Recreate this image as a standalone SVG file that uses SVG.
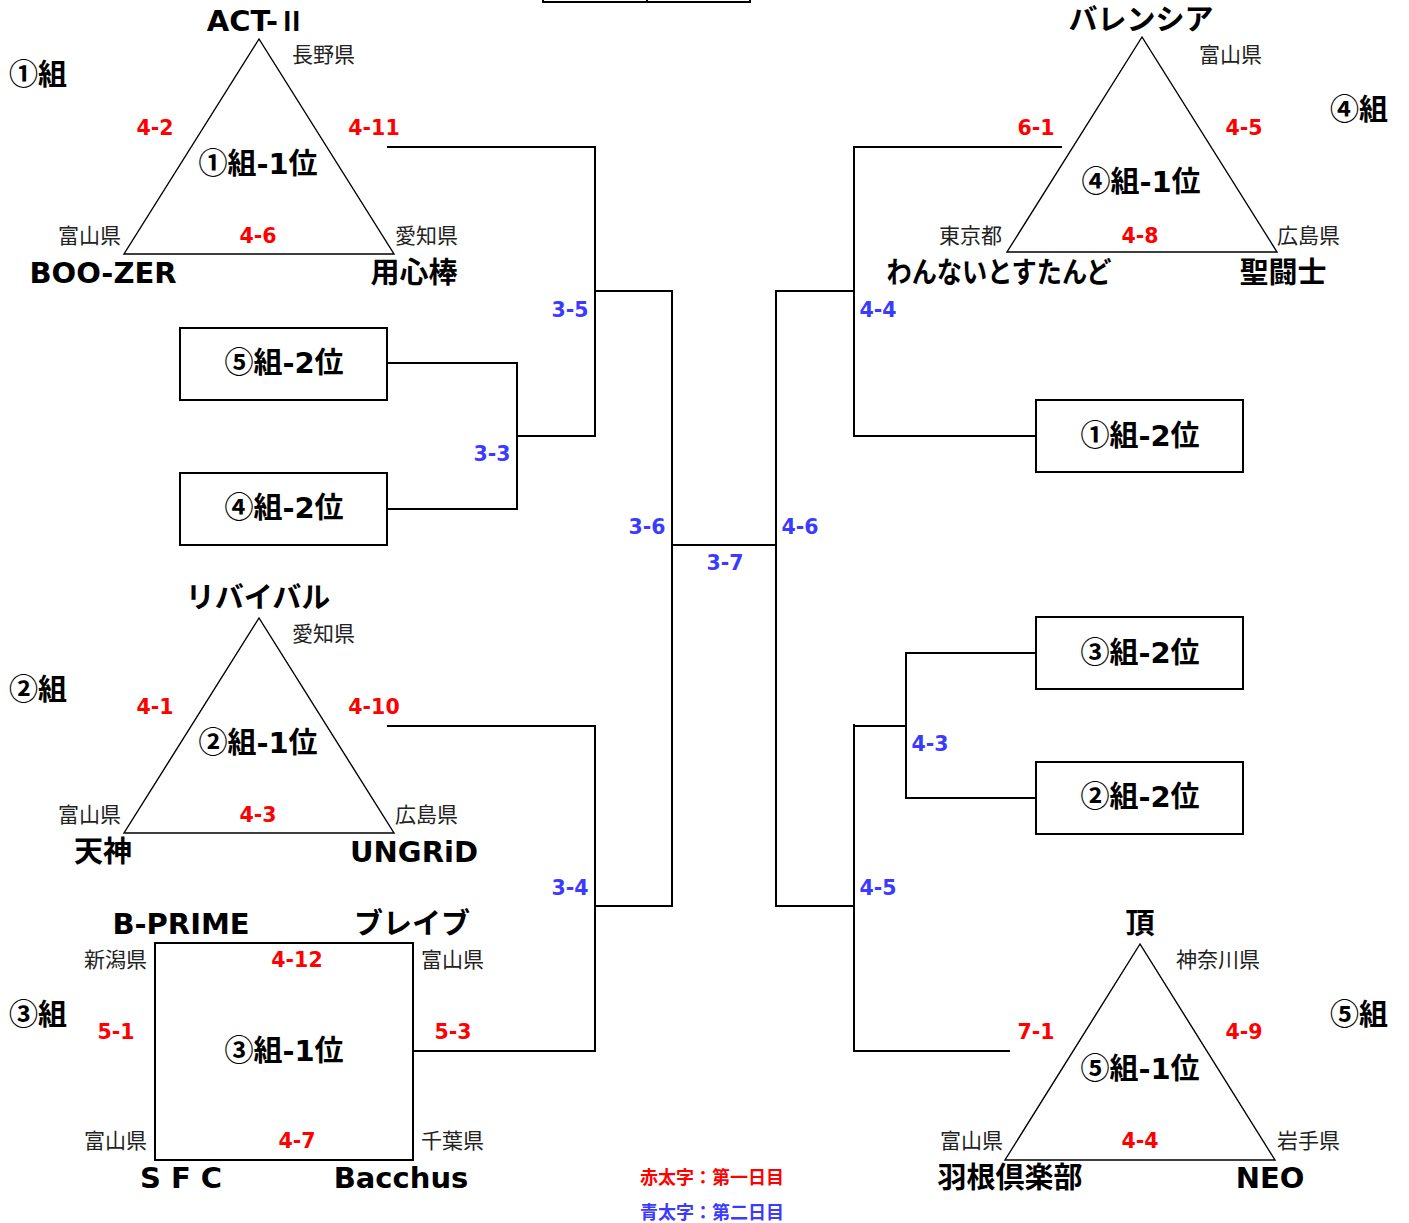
<svg xmlns="http://www.w3.org/2000/svg" width="1409" height="1223" viewBox="0 0 1409 1223">
<style>
.bg{fill:#fff}
.tri{fill:none;stroke:#000;stroke-width:1.4}
.box{fill:#fff;stroke:#000;stroke-width:2}
.ln{fill:none;stroke:#000;stroke-width:2}
.big{font-family:"DejaVu Sans","Noto Sans CJK JP",sans-serif;font-weight:bold;font-size:29px;fill:#000}
.grp{font-family:"DejaVu Sans","Noto Sans CJK JP",sans-serif;font-weight:bold;font-size:29px;fill:#000}
.c{font-family:"Noto Sans CJK JP",sans-serif}
.pref{font-family:"Noto Sans CJK JP",sans-serif;font-size:21px;fill:#222}
.red{font-family:"DejaVu Sans","Noto Sans CJK JP",sans-serif;font-weight:bold;font-size:20.5px;fill:#ff0000}
.blue{font-family:"DejaVu Sans","Noto Sans CJK JP",sans-serif;font-weight:bold;font-size:20.5px;fill:#3b3bff}
.lg{font-family:"Noto Sans CJK JP",sans-serif;font-weight:bold;font-size:18px}
.m{text-anchor:middle}
</style>
<rect class="bg" x="0" y="0" width="1409" height="1223"/>

<g id="header">
<rect x="543" y="-10" width="207" height="12" class="box"/>
<line x1="647" y1="-10" x2="647" y2="2" class="ln"/>
</g>

<g id="connectors">
<polyline class="ln" points="387,147 595,147 595,436 517,436"/>
<polyline class="ln" points="387,363 517,363 517,509 387,509"/>
<polyline class="ln" points="595,291 672,291 672,906 595,906"/>
<polyline class="ln" points="387,726 595,726 595,1051 413,1051"/>
<line class="ln" x1="672" y1="545" x2="776" y2="545"/>
<polyline class="ln" points="1062,147 854,147 854,436 1036,436"/>
<polyline class="ln" points="854,291 776,291 776,906 854,906"/>
<polyline class="ln" points="1036,653 906,653 906,798 1036,798"/>
<polyline class="ln" points="906,726 854,726"/>
<polyline class="ln" points="854,724 854,1051 1010,1051"/>
</g>

<g id="labels-round">
<text class="blue m" x="570" y="317">3-5</text>
<text class="blue m" x="492" y="461">3-3</text>
<text class="blue m" x="647" y="534">3-6</text>
<text class="blue m" x="725" y="570">3-7</text>
<text class="blue m" x="800" y="534">4-6</text>
<text class="blue m" x="570" y="895">3-4</text>
<text class="blue m" x="878" y="317">4-4</text>
<text class="blue m" x="930" y="751">4-3</text>
<text class="blue m" x="878" y="895">4-5</text>
</g>

<g id="group1">
<polygon class="tri" points="259,39 124,254 394,254"/>
<text class="big m" x="256" y="31">ACT-<tspan class="c" font-size="27">Ⅱ</tspan></text>
<text class="pref" x="292" y="62">長野県</text>
<text class="grp" x="9" y="85"><tspan class="c">①</tspan>組</text>
<text class="red m" x="155" y="135">4-2</text>
<text class="red m" x="374" y="135">4-11</text>
<text class="big m" x="258" y="174"><tspan class="c">①</tspan>組-1位</text>
<text class="pref" x="58" y="243">富山県</text>
<text class="red m" x="258" y="243">4-6</text>
<text class="pref" x="395" y="243">愛知県</text>
<text class="big m" x="103" y="283">BOO-ZER</text>
<text class="big m" x="414" y="283">用心棒</text>
</g>

<g id="box-g5-2"><rect class="box" x="180" y="328" width="207" height="72"/><text class="big m" x="284" y="373"><tspan class="c">⑤</tspan>組-2位</text></g>
<g id="box-g4-2"><rect class="box" x="180" y="473" width="207" height="72"/><text class="big m" x="284" y="518"><tspan class="c">④</tspan>組-2位</text></g>

<g id="group2">
<polygon class="tri" points="259,618 124,833 394,833"/>
<text class="big m" x="258" y="608">リバイバル</text>
<text class="pref" x="292" y="641">愛知県</text>
<text class="grp" x="9" y="700"><tspan class="c">②</tspan>組</text>
<text class="red m" x="155" y="714">4-1</text>
<text class="red m" x="374" y="714">4-10</text>
<text class="big m" x="258" y="753"><tspan class="c">②</tspan>組-1位</text>
<text class="pref" x="58" y="822">富山県</text>
<text class="red m" x="258" y="822">4-3</text>
<text class="pref" x="395" y="822">広島県</text>
<text class="big m" x="103" y="862">天神</text>
<text class="big m" x="414" y="862">UNGRiD</text>
</g>

<g id="group3">
<rect class="box" x="155" y="943" width="258" height="217"/>
<text class="big m" x="181" y="934">B-PRIME</text>
<text class="big m" x="412" y="934">ブレイブ</text>
<text class="pref" x="84" y="967">新潟県</text>
<text class="red m" x="297" y="967">4-12</text>
<text class="pref" x="421" y="967">富山県</text>
<text class="grp" x="9" y="1025"><tspan class="c">③</tspan>組</text>
<text class="red m" x="116" y="1039">5-1</text>
<text class="red m" x="453" y="1039">5-3</text>
<text class="big m" x="284" y="1061"><tspan class="c">③</tspan>組-1位</text>
<text class="pref" x="84" y="1148">富山県</text>
<text class="red m" x="297" y="1148">4-7</text>
<text class="pref" x="421" y="1148">千葉県</text>
<text class="big m" x="181" y="1188">S F C</text>
<text class="big m" x="401" y="1188">Bacchus</text>
</g>

<g id="group4">
<polygon class="tri" points="1142,37 1007,252 1277,252"/>
<text class="big m" x="1141" y="30">バレンシア</text>
<text class="pref" x="1199" y="62">富山県</text>
<text class="grp" x="1330" y="120"><tspan class="c">④</tspan>組</text>
<text class="red m" x="1036" y="135">6-1</text>
<text class="red m" x="1244" y="135">4-5</text>
<text class="big m" x="1141" y="192"><tspan class="c">④</tspan>組-1位</text>
<text class="pref" x="939" y="243">東京都</text>
<text class="red m" x="1140" y="243">4-8</text>
<text class="pref" x="1277" y="243">広島県</text>
<text class="big m" x="999" y="283" textLength="225" lengthAdjust="spacingAndGlyphs">わんないとすたんど</text>
<text class="big m" x="1283" y="283">聖闘士</text>
</g>

<g id="box-g1-2"><rect class="box" x="1036" y="400" width="207" height="72"/><text class="big m" x="1140" y="446"><tspan class="c">①</tspan>組-2位</text></g>
<g id="box-g3-2"><rect class="box" x="1036" y="617" width="207" height="72"/><text class="big m" x="1140" y="663"><tspan class="c">③</tspan>組-2位</text></g>
<g id="box-g2-2"><rect class="box" x="1036" y="762" width="207" height="72"/><text class="big m" x="1140" y="807"><tspan class="c">②</tspan>組-2位</text></g>

<g id="group5">
<polygon class="tri" points="1140,944 1005,1160 1275,1160"/>
<text class="big m" x="1140" y="934">頂</text>
<text class="pref" x="1176" y="967">神奈川県</text>
<text class="grp" x="1330" y="1025"><tspan class="c">⑤</tspan>組</text>
<text class="red m" x="1036" y="1039">7-1</text>
<text class="red m" x="1244" y="1039">4-9</text>
<text class="big m" x="1140" y="1079"><tspan class="c">⑤</tspan>組-1位</text>
<text class="pref" x="940" y="1148">富山県</text>
<text class="red m" x="1140" y="1148">4-4</text>
<text class="pref" x="1277" y="1148">岩手県</text>
<text class="big m" x="1010" y="1188">羽根倶楽部</text>
<text class="big m" x="1270" y="1188">NEO</text>
</g>

<g id="legend">
<text class="lg" x="640" y="1184" fill="#ff0000">赤太字：第一日目</text>
<text class="lg" x="640" y="1219" fill="#3b3bff">青太字：第二日目</text>
</g>
</svg>
